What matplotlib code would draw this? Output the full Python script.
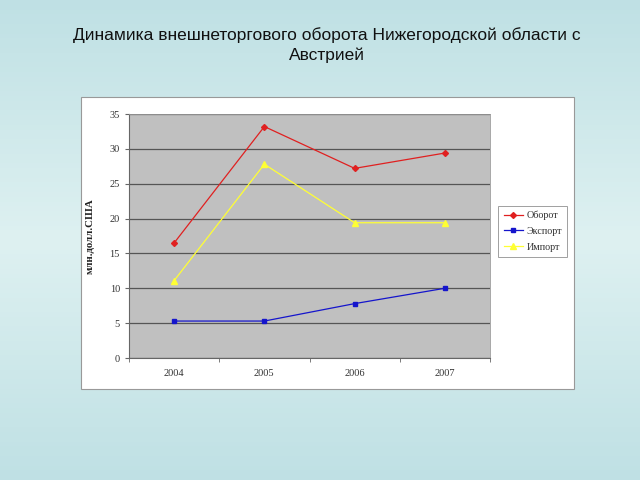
import numpy as np
import matplotlib.pyplot as plt
from matplotlib.patches import Rectangle

years = ["2004", "2005", "2006", "2007"]
turnover = [16.5, 33.2, 27.2, 29.4]
export = [5.3, 5.3, 7.8, 10.0]
imports = [11.1, 27.8, 19.4, 19.4]

title = "Динамика внешнеторгового оборота Нижегородской области с\nАвстрией"

fig = plt.figure(figsize=(6.4, 4.8), dpi=100)

# slide background gradient
bg = fig.add_axes([0, 0, 1, 1], zorder=-10)
g = np.concatenate([np.linspace(0, 1, 50), np.linspace(1, 0, 50)])[:, None]
top = np.array([0.75, 0.88, 0.895])
mid = np.array([0.87, 0.945, 0.945])
img = top + g[..., None] * (mid - top)
bg.imshow(img, aspect="auto", extent=[0, 1, 0, 1])
bg.axis("off")

# white chart box
fig.patches.append(Rectangle((81 / 640, 1 - 389 / 480), (574 - 81) / 640, (389 - 97) / 480,
                             transform=fig.transFigure, facecolor="white",
                             edgecolor="#999999", linewidth=0.8, zorder=-5))

fig.text(0.511, 0.944, title, ha="center", va="top", fontsize=12.5,
         family="Liberation Sans", color="#111111", linespacing=1.35)

ax = fig.add_axes([129 / 640, 1 - 358 / 480, (490 - 129) / 640, (358 - 114) / 480])
ax.set_facecolor("#c0c0c0")
x = np.arange(len(years))

ax.plot(x, turnover, color="#e02020", marker="D", markersize=3, linewidth=0.9, label="Оборот")
ax.plot(x, export, color="#1515cc", marker="s", markersize=3.5, linewidth=0.9, label="Экспорт")
ax.plot(x, imports, color="#ffff33", marker="^", markersize=4, linewidth=0.9, label="Импорт")

ax.set_xlim(-0.5, 3.5)
ax.set_ylim(0, 35)
ax.set_yticks(range(0, 36, 5))
ax.yaxis.grid(True, color="#555555", linewidth=0.9)
ax.set_axisbelow(True)
ax.set_xticks(x)
ax.set_xticklabels(years)
ax.set_xticks(np.arange(-0.5, 4, 1), minor=True)
ax.tick_params(axis="x", which="major", length=0, pad=8)
ax.tick_params(axis="x", which="minor", length=3, color="#666666")
ax.tick_params(axis="y", length=3, color="#666666")
for lab in ax.get_xticklabels() + ax.get_yticklabels():
    lab.set_family("Liberation Serif")
    lab.set_fontsize(7.5)
    lab.set_color("#333333")

for side in ["top", "right"]:
    ax.spines[side].set_color("#999999")
    ax.spines[side].set_linewidth(0.6)
for side in ["left", "bottom"]:
    ax.spines[side].set_color("#666666")
    ax.spines[side].set_linewidth(0.8)

ax.set_ylabel("млн.долл.США", family="Liberation Serif", fontsize=7.8,
              fontweight="bold", color="#222222", labelpad=11)

leg = ax.legend(loc="center left", bbox_to_anchor=(1.015, 0.52), frameon=True,
                fancybox=False, prop={"family": "Liberation Serif", "size": 7.3},
                handlelength=1.9, borderpad=0.5, labelspacing=0.65, handletextpad=0.35,
                borderaxespad=0.3)
leg.get_frame().set_edgecolor("#888888")
leg.get_frame().set_linewidth(0.7)
for t in leg.get_texts():
    t.set_color("#333333")

fig.savefig("out.png", dpi=100)
